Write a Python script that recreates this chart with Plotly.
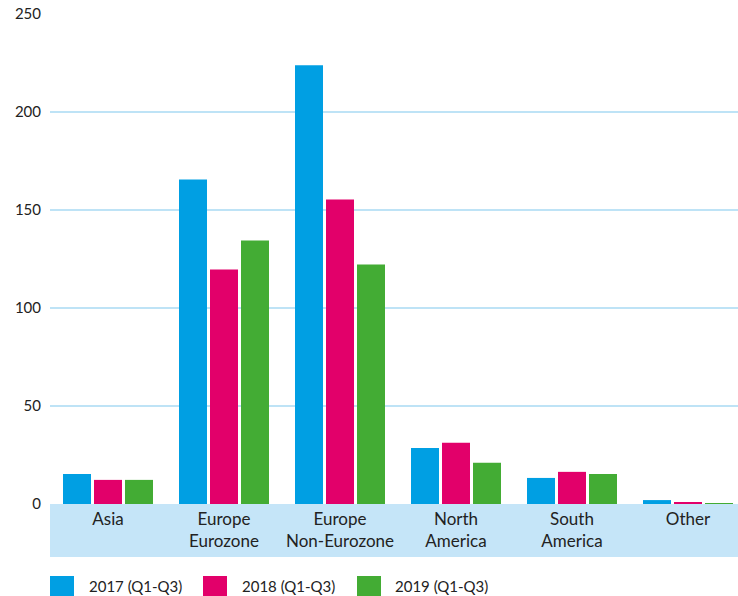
import plotly.graph_objects as go

categories = ["Asia", "Europe<br>Eurozone", "Europe<br>Non-Eurozone", "North<br>America", "South<br>America", "Other"]
series_names = ["2017 (Q1-Q3)", "2018 (Q1-Q3)", "2019 (Q1-Q3)"]
values_2017 = [15.3, 165.6, 223.9, 28.6, 13.3, 2.0]
values_2018 = [12.3, 119.6, 155.4, 31.2, 16.4, 0.7]
values_2019 = [12.3, 134.5, 122.2, 21.0, 15.3, 0.5]
colors = ["#009FE3", "#E2006A", "#43AC34"]
y_ticks = [0, 50, 100, 150, 200, 250]

W, H = 738, 596
L, R, T, B = 50, 0, 14, 92
pw, ph = W - L - R, H - T - B

def px_x(p):
    return (p - L) / pw

def px_y(p):
    return (H - B - p) / ph

FONT = "Lato, 'Open Sans', sans-serif"
x_idx = list(range(len(categories)))

fig = go.Figure()
for name, vals, col in zip(series_names, [values_2017, values_2018, values_2019], colors):
    fig.add_trace(go.Bar(x=x_idx, y=vals, name=name, marker=dict(color=col, line=dict(width=0)),
                         showlegend=False, hoverinfo="x+y+name"))

cat_w = 116
fig.update_layout(
    width=W, height=H,
    margin=dict(l=L, r=R, t=T, b=B, pad=0),
    plot_bgcolor="white", paper_bgcolor="white",
    barmode="group", bargap=23/116, bargroupgap=3/31,
    font=dict(family=FONT, size=15, color="#222222"),
    xaxis=dict(range=[-0.5, -0.5 + pw / cat_w], tickvals=x_idx, ticktext=categories,
               showgrid=False, zeroline=False, showline=False, ticks="", ticklabelstandoff=3,
               tickfont=dict(size=17, color="#222222"), fixedrange=True),
    yaxis=dict(range=[0, 250], tickvals=y_ticks, showgrid=True, gridcolor="#BEE3F6", gridwidth=2,
               zeroline=False, showline=False, ticks="", ticklabelstandoff=8,
               tickfont=dict(size=15, color="#222222"), fixedrange=True),
)

# category band under x axis
fig.add_shape(type="rect", xref="paper", yref="paper", x0=0, x1=1, y0=px_y(557), y1=0,
              fillcolor="#C5E5F8", line=dict(width=0), layer="below")

# custom legend
sq_x = [50, 203, 357]
tx_x = [87, 240, 393]
for name, col, sx, tx in zip(series_names, colors, sq_x, tx_x):
    fig.add_shape(type="rect", xref="paper", yref="paper", x0=px_x(sx), x1=px_x(sx + 24),
                  y0=px_y(600), y1=px_y(576), fillcolor=col, line=dict(width=0))
    fig.add_annotation(xref="paper", yref="paper", x=px_x(tx), y=px_y(586), text=name,
                       showarrow=False, xanchor="left", yanchor="middle",
                       font=dict(size=15, color="#222222", family=FONT))

fig.write_html("out.html", config={"displayModeBar": False},
               post_script="document.body.style.margin='0';document.body.style.overflow='hidden';")
